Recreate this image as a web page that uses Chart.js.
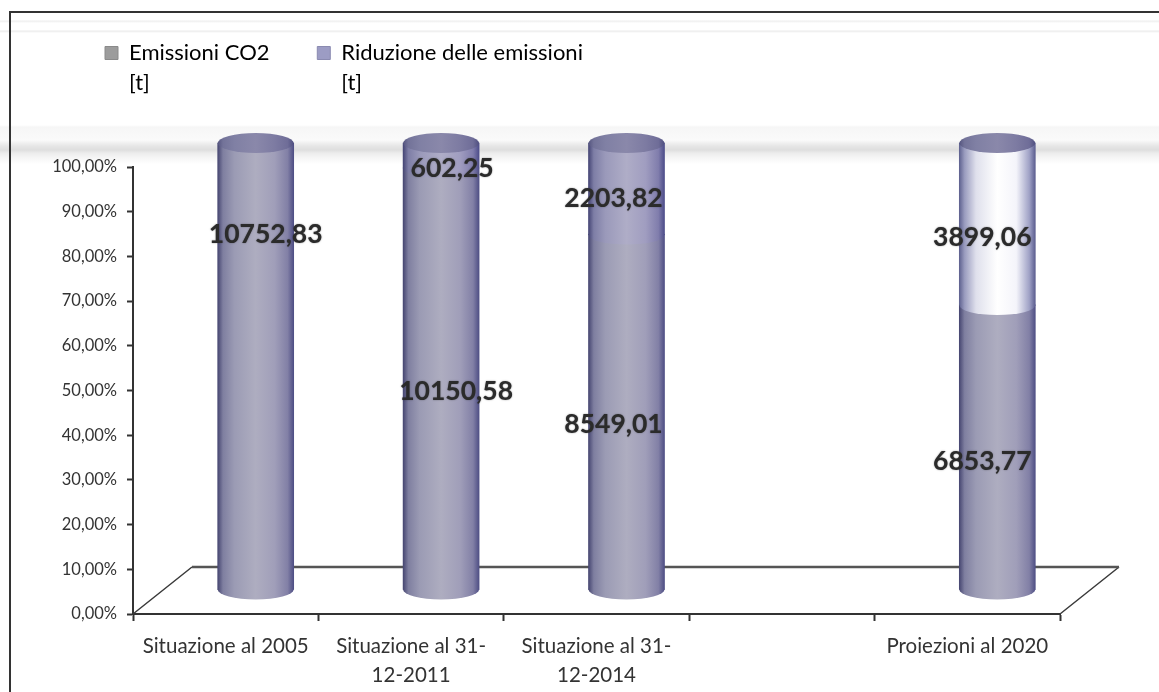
<!DOCTYPE html>
<html>
<head>
<meta charset="utf-8">
<title>Emissioni CO2</title>
<script src="https://cdn.jsdelivr.net/npm/chart.js@4/dist/chart.umd.min.js"></script>
<style>
  html, body { margin: 0; padding: 0; background: #fff; }
  /* scan artefacts behind the chart, plus the frame of the scanned page */
  #page {
    position: relative; width: 1159px; height: 692px; overflow: hidden;
    background: linear-gradient(to bottom,
      #fff 0, #fff 20px, #eee 21px, #fff 23px, #fff 30px, #ebebeb 31px, #fff 33px,
      #fff 125px, #f6f6f6 127px, #fafafa 140px, #e6e6e6 146px, #dedede 150px, #ececec 153px,
      #f6f6f6 158px, #fff 164px, #fff 100%);
  }
  #frame { position: absolute; left: 9px; top: 11px; right: -4px; bottom: -4px; border: 2px solid #333; }
  canvas { position: absolute; left: 0; top: 0; }
</style>
</head>
<body>
<div id="page">
  <div id="frame"></div>
  <canvas id="chart" width="1159" height="692"></canvas>
</div>
<script>
window.onload = function() {
    const categories = [
        'Situazione al 2005',
        ['Situazione al 31-', '12-2011'],
        ['Situazione al 31-', '12-2014'],
        '',
        'Proiezioni al 2020'
    ];
    const emissioni = [10752.83, 10150.58, 8549.01, null, 6853.77];
    const riduzione = [null, 602.25, 2203.82, null, 3899.06];
    const yTicks = [0, 10, 20, 30, 40, 50, 60, 70, 80, 90, 100];

    const seriesNames = [['Emissioni CO2', '[t]'], ['Riduzione delle emissioni', '[t]']];

    // 100% stacked, like the original: each value as a share of its column
    const share = (values, i) => {
        const total = (emissioni[i] || 0) + (riduzione[i] || 0);
        return values[i] === null ? null : values[i] / total * 100;
    };
    const emissioniPct = emissioni.map((v, i) => share(emissioni, i));
    const riduzionePct = riduzione.map((v, i) => share(riduzione, i));

    // hand placed labels of the original, offset from the middle of their segment
    const emissioniLabelOffset = [[10, -132], [15, 13], [-13, 12], null, [-15, 14]];
    const riduzioneLabelOffset = [null, [11, 13], [-13, 10], null, [-15, 13]];

    // the floor of the 3D plot and how far the cylinders stand back on it
    const floorDepth = { x: 59, y: -47 };
    const barOffset = { x: 30, y: -24 };
    const barWidth = 76;
    const ellipseHeight = 10;
    const legendLeft = 83;

    const stopPositions = [0, 0.07, 0.22, 0.5, 0.75, 0.92, 1];
    const stopsEmissioni = ['#474772', '#7f7fa0', '#9b9bb4', '#aeadc0', '#a09eb9', '#8280a6', '#4f4f85'];
    const stopsRiduzione = ['#464676', '#7e7ea6', '#9a99ba', '#afadc7', '#a09dc0', '#807dac', '#4d4d8a'];
    const stopsWhite = ['#5f6290', '#9a9cbf', '#dfe0ec', '#ffffff', '#f4f4fa', '#a0a2c6', '#5c5e90'];
    const stopsTop = ['#55557f', '#737399', '#8080a4', '#8a88aa', '#7d7ba2', '#6f6d98', '#4f4f80'];

    const cylinderFill = (chart, i, stops) => {
        const x = chart.scales.x.getPixelForValue(i);
        const grad = chart.ctx.createLinearGradient(x - barWidth / 2, 0, x + barWidth / 2, 0);
        stopPositions.forEach((pos, k) => grad.addColorStop(pos, stops[k]));
        return grad;
    };

    const cylinderPlugin = {
        id: 'cylinders',
        beforeInit(chart) {
            // extra room below the legend, the plot starts well under it
            const fit = chart.legend.fit;
            chart.legend.fit = function() {
                fit.call(this);
                this.height = 147;
            };
        },
        afterLayout(chart) {
            // legend starts over the plot, not at the left of the tick labels
            chart.legend.left = legendLeft;
        },
        beforeDatasetsDraw(chart) {
            const { ctx, chartArea: a } = chart;
            ctx.save();
            ctx.strokeStyle = '#3a3a3a';
            ctx.lineWidth = 1.5;
            ctx.beginPath();
            ctx.moveTo(a.left, a.bottom);
            ctx.lineTo(a.left + floorDepth.x, a.bottom + floorDepth.y);
            ctx.moveTo(a.right + floorDepth.x, a.bottom + floorDepth.y);
            ctx.lineTo(a.right, a.bottom);
            ctx.stroke();
            ctx.strokeStyle = '#555';
            ctx.lineWidth = 2.5;
            ctx.beginPath();
            ctx.moveTo(a.left + floorDepth.x, a.bottom + floorDepth.y);
            ctx.lineTo(a.right + floorDepth.x, a.bottom + floorDepth.y);
            ctx.stroke();
            ctx.restore();
            ctx.save();
            ctx.translate(barOffset.x, barOffset.y);
        },
        afterDatasetsDraw(chart) {
            const ctx = chart.ctx;
            const lower = chart.getDatasetMeta(0).data;
            const upper = chart.getDatasetMeta(1).data;
            const ellipse = (x, y, fill) => {
                ctx.fillStyle = fill;
                ctx.beginPath();
                ctx.ellipse(x, y, barWidth / 2, ellipseHeight, 0, 0, Math.PI * 2);
                ctx.fill();
            };
            lower.forEach((bar, i) => {
                if (emissioni[i] === null) return;
                ellipse(bar.x, bar.base, bar.options.backgroundColor);
                let top = bar.y;
                if (riduzione[i] !== null) {
                    ellipse(bar.x, bar.y, upper[i].options.backgroundColor);
                    top = upper[i].y;
                }
                ellipse(bar.x, top, cylinderFill(chart, i, stopsTop));
            });
            ctx.restore();

            // data labels in the original's comma format
            ctx.save();
            ctx.font = 'bold 26.5px Lato';
            ctx.fillStyle = '#2b2b2b';
            ctx.shadowColor = 'rgba(40,40,40,0.6)';
            ctx.shadowBlur = 1.5;
            ctx.textAlign = 'center';
            ctx.textBaseline = 'middle';
            const label = (bar, value, offset) => {
                const mid = (bar.y + bar.base) / 2 + barOffset.y;
                ctx.fillText(value.toFixed(2).replace('.', ','), bar.x + barOffset.x + offset[0], mid + offset[1]);
            };
            lower.forEach((bar, i) => {
                if (emissioni[i] !== null) label(bar, emissioni[i], emissioniLabelOffset[i]);
                if (riduzione[i] !== null) label(upper[i], riduzione[i], riduzioneLabelOffset[i]);
            });
            ctx.restore();
        }
    };

    const chartCtx = document.getElementById('chart').getContext('2d');
    new Chart(chartCtx, {
        type: 'bar',
        data: {
            labels: categories,
            datasets: [
                {
                    label: seriesNames[0],
                    data: emissioniPct,
                    barThickness: barWidth,
                    clip: false,
                    backgroundColor: (c) => cylinderFill(c.chart, c.dataIndex, stopsEmissioni)
                },
                {
                    label: seriesNames[1],
                    data: riduzionePct,
                    barThickness: barWidth,
                    clip: false,
                    backgroundColor: (c) => cylinderFill(c.chart, c.dataIndex, c.dataIndex === 4 ? stopsWhite : stopsRiduzione)
                }
            ]
        },
        options: {
            responsive: false,
            animation: false,
            layout: { padding: { left: 13, right: 99, top: 20, bottom: 0 } },
            plugins: {
                tooltip: { enabled: false },
                legend: {
                    position: 'top',
                    align: 'start',
                    labels: {
                        boxWidth: 13,
                        boxHeight: 13,
                        padding: 22,
                        color: '#333',
                        font: { family: 'Lato', size: 22, lineHeight: 1.364 },
                        generateLabels: () => [
                            { text: seriesNames[0], fillStyle: '#9c9c9c', strokeStyle: '#8a8a8a', lineWidth: 1 },
                            { text: seriesNames[1], fillStyle: '#9c9cc4', strokeStyle: '#8a8ab0', lineWidth: 1 }
                        ]
                    }
                }
            },
            scales: {
                x: {
                    stacked: true,
                    afterFit: (scale) => { scale.height = 78; },
                    border: { color: '#333', width: 2 },
                    grid: { drawOnChartArea: false, offset: true, tickLength: 7, color: '#333', tickWidth: 2 },
                    ticks: {
                        color: '#333',
                        padding: 11,
                        maxRotation: 0,
                        autoSkip: false,
                        font: { family: 'Lato', size: 20.5, lineHeight: 1.4 }
                    }
                },
                y: {
                    stacked: true,
                    min: 0,
                    max: 100,
                    afterFit: (scale) => { scale.width = 120; },
                    afterBuildTicks: (scale) => { scale.ticks = yTicks.map((value) => ({ value })); },
                    border: { color: '#333', width: 2 },
                    grid: { drawOnChartArea: false, tickLength: 6, color: '#333', tickWidth: 2 },
                    ticks: {
                        color: '#333',
                        padding: 10,
                        font: { family: 'Lato', size: 16.5 },
                        callback: (value) => value.toFixed(2).replace('.', ',') + '%'
                    }
                }
            }
        },
        plugins: [cylinderPlugin]
    });
};
</script>
</body>
</html>
